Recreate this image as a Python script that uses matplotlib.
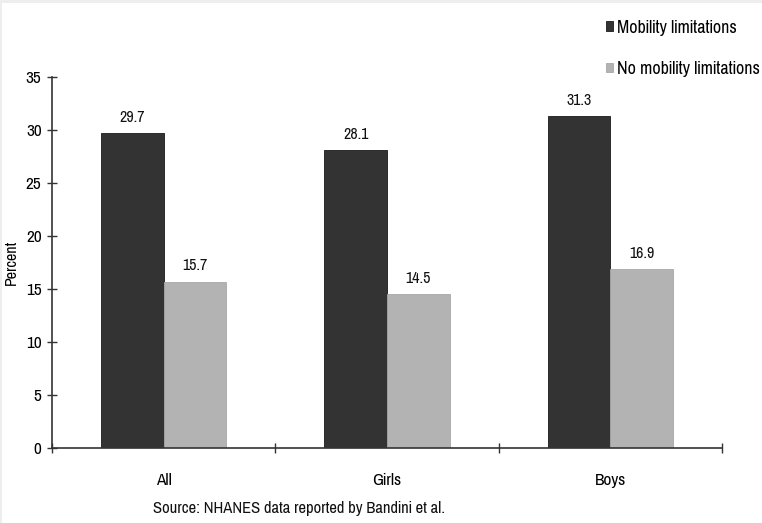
import matplotlib
matplotlib.use("Agg")
import matplotlib.pyplot as plt
import numpy as np
from matplotlib.patches import Rectangle

plt.rcParams['font.family'] = ['Pragati Narrow', 'Roboto Condensed', 'DejaVu Sans']

categories = ["All", "Girls", "Boys"]
series_names = ["Mobility limitations", "No mobility limitations"]
mobility = [29.7, 28.1, 31.3]
no_mobility = [15.7, 14.5, 16.9]
y_ticks = [0, 5, 10, 15, 20, 25, 30, 35]
source_note = "Source: NHANES data reported by Bandini et al."

W, H = 762, 523
fig = plt.figure(figsize=(W / 100, H / 100), dpi=100)
fig.patch.set_facecolor("white")

# thin grey frame along the top and left edges
fig.patches.append(Rectangle((0, 1 - 3 / H), 1, 3 / H, transform=fig.transFigure,
                             facecolor="#eeeeee", edgecolor="none", zorder=-1))
fig.patches.append(Rectangle((0, 0), 1.5 / W, 1, transform=fig.transFigure,
                             facecolor="#eeeeee", edgecolor="none", zorder=-1))

left, right, bottom, top = 52, 722, 448, 77
ax = fig.add_axes([left / W, 1 - bottom / H, (right - left) / W, (bottom - top) / H])

x = np.arange(len(categories))
bw = 0.28
dark, light = "#333333", "#b3b3b3"
ax.bar(x - bw / 2, mobility, bw, color=dark, edgecolor="#1a1a1a", linewidth=0.6,
       label=series_names[0], zorder=2)
ax.bar(x + bw / 2, no_mobility, bw, color=light, edgecolor="#a8a8a8", linewidth=0.6,
       label=series_names[1], zorder=2)

for xi, v in zip(x, mobility):
    ax.annotate(f"{v:.1f}", (xi - bw / 2, v), xytext=(0, 6), textcoords="offset points",
                ha="center", va="bottom", fontsize=12.5, color="#111111")
for xi, v in zip(x, no_mobility):
    ax.annotate(f"{v:.1f}", (xi + bw / 2, v), xytext=(0, 6), textcoords="offset points",
                ha="center", va="bottom", fontsize=12.5, color="#111111")

ax.set_xlim(-0.5, len(categories) - 0.5)
ax.set_ylim(0, 35)
ax.set_yticks(y_ticks)
ax.set_yticklabels([str(t) for t in y_ticks], fontsize=13.5)
ax.set_xticks(np.arange(len(categories) + 1) - 0.5)
ax.set_xticklabels([])
ax.set_xticks(x, minor=True)
ax.set_xticklabels(categories, minor=True, fontsize=13.5)
ax.tick_params(axis="x", which="minor", length=0, pad=18)
ax.tick_params(axis="both", which="major", direction="inout", length=7, width=1,
               color="#333333", pad=4)
ax.tick_params(axis="y", pad=4)

for s in ["top", "right"]:
    ax.spines[s].set_visible(False)
for s in ["left", "bottom"]:
    ax.spines[s].set_color("#333333")
    ax.spines[s].set_linewidth(1.2)

ax.set_ylabel("Percent", fontsize=12.5, labelpad=5)

leg = fig.legend(loc="upper left", bbox_to_anchor=(606 / W, 1 - 20 / H),
                 frameon=False, fontsize=14, handlelength=0.35, handleheight=0.35,
                 handletextpad=0.2, labelspacing=1.3, borderaxespad=0, borderpad=0)

fig.text(153 / W, 1 - 509 / H, source_note, ha="left", va="center", fontsize=13,
         color="#111111")

fig.savefig("out.png", dpi=100)
